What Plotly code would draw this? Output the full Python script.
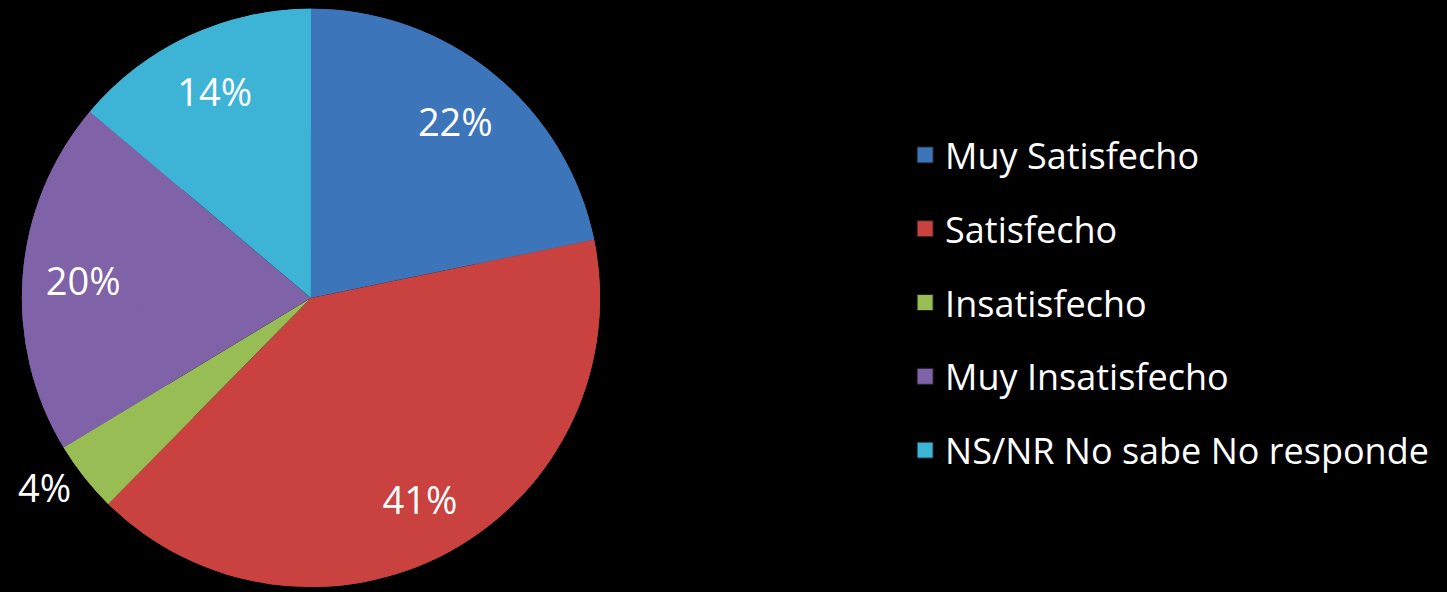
import plotly.graph_objects as go

categories = ["Muy Satisfecho", "Satisfecho", "Insatisfecho", "Muy Insatisfecho", "NS/NR No sabe No responde"]
values = [22, 41, 4, 20, 14]
text_labels = ["22%", "41%", "4%", "20%", "14%"]
colors = ["#3d75ba", "#c9423f", "#98bd55", "#7f62a7", "#3db4d6"]
text_positions = ["inside", "inside", "outside", "inside", "inside"]

FONT = "Open Sans"
DOMAIN = dict(x=[0.0145, 0.4153], y=[0.0, 0.985])

fig = go.Figure()
# full pie (fills the centre)
fig.add_trace(go.Pie(
    labels=categories, values=values,
    textinfo="none",
    marker=dict(colors=colors, line=dict(width=0)),
    sort=False, direction="clockwise", rotation=0,
    showlegend=False, domain=DOMAIN, hoverinfo="skip",
))
# ring on top carrying the labels further out, like the reference
fig.add_trace(go.Pie(
    labels=categories, values=values,
    text=text_labels, textinfo="text",
    textposition=text_positions,
    insidetextorientation="horizontal",
    textfont=dict(family=FONT, size=38, color="white"),
    marker=dict(colors=colors, line=dict(width=0)),
    hole=0.58,
    sort=False, direction="clockwise", rotation=0,
    showlegend=False, domain=DOMAIN,
    hoverinfo="label+percent",
))

for i, (cat, col) in enumerate(zip(categories, colors)):
    fig.add_trace(go.Scatter(
        x=[None], y=[None], mode="markers", name=cat,
        legendgroup=f"g{i}",
        marker=dict(symbol="square", size=16, color=col,
                    line=dict(color="#222222", width=1)),
        showlegend=True,
    ))

fig.update_layout(
    width=1447, height=592,
    paper_bgcolor="black", plot_bgcolor="black",
    margin=dict(l=0, r=0, t=0, b=0),
    xaxis=dict(visible=False), yaxis=dict(visible=False),
    legend=dict(
        x=0.6255, y=0.787, xanchor="left", yanchor="top",
        font=dict(family=FONT, size=36, color="white"),
        bgcolor="rgba(0,0,0,0)",
        tracegroupgap=24,
        itemwidth=30,
    ),
    font=dict(family=FONT, color="white"),
)

fig.write_html("out.html", config={"displayModeBar": False},
               post_script="document.body.style.margin='0';")
